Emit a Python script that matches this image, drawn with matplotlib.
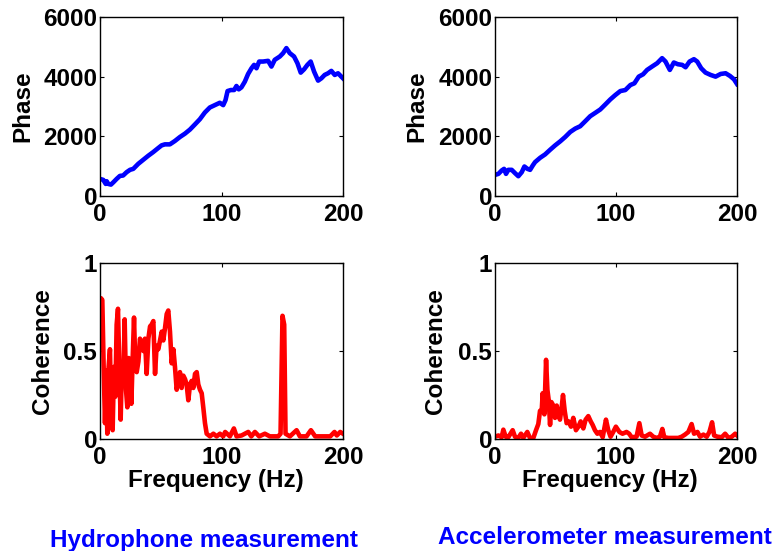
#!/usr/bin/env python3
"""
Phase and coherence plots for the hydrophone and accelerometer measurements.
"""

import matplotlib
matplotlib.use('Agg')
import matplotlib.pyplot as plt

# Hydrophone: unwrapped phase
hyd_phase_freq = [0, 2.7, 4.7, 5.5, 6.8, 9, 11, 13.7, 16.4, 19,
                  21.9, 24.7, 27.4, 31.5, 35.6, 39.7, 43.8, 47.9, 50.7, 53.4,
                  57.5, 61.6, 65.8, 69.9, 74, 78, 82.2, 86.3, 90.4, 94.5,
                  98.6, 101.4, 103.3, 105, 107.7, 110.4, 112.3, 114.2, 116.4, 119.2,
                  121.9, 124.7, 126.8, 128.8, 131, 134.2, 138.4, 141.1, 143.8, 148,
                  150.7, 153.4, 156.2, 159.7, 162.5, 165.2, 168, 170.7, 173.4, 176.2,
                  179.5, 182.2, 184.9, 187.7, 190.4, 193.2, 195.9, 200]
hyd_phase = [573, 540, 405, 495, 405, 382, 460, 573, 674, 686,
             798, 877, 910, 1079, 1214, 1349, 1472, 1607, 1697, 1731,
             1731, 1843, 1978, 2090, 2226, 2394, 2574, 2799, 2967, 3046,
             3125, 3046, 3215, 3518, 3552, 3552, 3687, 3575, 3642, 3833,
             4091, 4282, 4395, 4282, 4507, 4507, 4530, 4339, 4564, 4676,
             4788, 4957, 4788, 4676, 4451, 4136, 4248, 4395, 4507, 4170,
             3867, 3945, 4058, 4114, 4193, 4058, 4114, 3945]

# Accelerometer: unwrapped phase
acc_phase_freq = [0, 2.8, 5.5, 7.5, 9.1, 11, 13.8, 16.6, 19.3, 22.1,
                  24.3, 26.8, 29, 31.2, 33.1, 37.3, 41.4, 45.6, 49.7, 53.9,
                  58, 62.2, 66.3, 70.4, 74.6, 78.7, 82.9, 87, 91.2, 95.3,
                  99.4, 103.6, 107.7, 111.9, 115.2, 118.8, 122.4, 125.7, 129.8, 134,
                  138.1, 140.9, 144.5, 147.8, 151.1, 154.7, 157.5, 160.8, 164.4, 167.1,
                  170.4, 174, 178.2, 182.3, 186.5, 190.6, 194.2, 197.5, 200]
acc_phase = [708, 742, 854, 910, 742, 877, 877, 764, 663, 798,
             989, 910, 877, 1023, 1135, 1281, 1394, 1551, 1697, 1832,
             1978, 2147, 2259, 2338, 2507, 2675, 2788, 2900, 3069, 3237,
             3383, 3518, 3552, 3720, 3777, 4001, 4080, 4226, 4339, 4451,
             4620, 4507, 4226, 4474, 4417, 4395, 4316, 4507, 4586, 4507,
             4282, 4136, 4058, 4001, 4091, 4114, 4024, 3912, 3754]

# Hydrophone: coherence
hyd_coh_freq = [0, 0.8, 1.9, 3, 4.1, 5.2, 6, 7.1, 8.2, 9.3,
                10.4, 11.5, 12.6, 13.7, 14.8, 15.9, 17, 18, 19.1, 20.3,
                21.4, 22.5, 23.6, 24.7, 25.8, 26.9, 28, 29.1, 30.2, 31.6,
                32.9, 34.3, 35.7, 37, 38.4, 39.8, 41.2, 42.5, 43.9, 45.3,
                46.6, 48, 49.4, 50.8, 52.1, 53.5, 54.9, 56.2, 57.6, 59,
                60.4, 61.7, 63.1, 64.5, 65.8, 67.2, 68.6, 70, 71.3, 72.7,
                74.1, 75.4, 76.8, 78.2, 79.6, 80.9, 82.3, 83.7, 85, 86.4,
                87.8, 90.5, 93.3, 96, 98.7, 101.4, 103, 106.9, 110.2, 112.4,
                116.5, 122, 124.5, 127.5, 131, 135.7, 139.8, 146.7, 148.6, 150.2,
                151.6, 152.7, 156.3, 161.8, 164.5, 170, 173.6, 177.1, 182.6, 189.5,
                193, 194.9, 197.7, 200]
hyd_coh = [0.74, 0.80, 0.79, 0.41, 0.09, 0.39, 0.03, 0.41, 0.51, 0.13,
           0.05, 0.41, 0.24, 0.65, 0.74, 0.41, 0.11, 0.41, 0.31, 0.68,
           0.28, 0.18, 0.46, 0.43, 0.20, 0.46, 0.69, 0.41, 0.38, 0.44,
           0.57, 0.54, 0.50, 0.57, 0.37, 0.57, 0.64, 0.65, 0.67, 0.37,
           0.53, 0.51, 0.56, 0.61, 0.56, 0.63, 0.71, 0.73, 0.61, 0.43,
           0.51, 0.41, 0.28, 0.33, 0.38, 0.29, 0.36, 0.34, 0.31, 0.22,
           0.31, 0.33, 0.29, 0.37, 0.38, 0.31, 0.28, 0.26, 0.18, 0.09,
           0.03, 0.015, 0.03, 0.015, 0.03, 0.015, 0.04, 0.015, 0.06, 0.015,
           0.02, 0.04, 0.015, 0.04, 0.015, 0.03, 0.015, 0.015, 0.03, 0.70,
           0.65, 0.03, 0.015, 0.05, 0.015, 0.015, 0.05, 0.015, 0.015, 0.015,
           0.04, 0.02, 0.04, 0.03]

# Accelerometer: coherence
acc_coh_freq = [0, 2.8, 5.5, 6.9, 8.8, 11, 14.6, 16.5, 19.3, 21.5,
                23.4, 26.7, 28.9, 31.7, 33.9, 35.8, 37.2, 38.6, 39.4, 40.8,
                42.2, 43.3, 44.4, 45.5, 46.6, 48.2, 49.6, 51, 52.3, 53.7,
                55.1, 56.2, 57.6, 59.2, 60.9, 62.8, 64.7, 66.9, 68.9, 70.8,
                73, 74.9, 77.1, 79.1, 80.7, 82.6, 84.6, 86.8, 89, 91.7,
                93.6, 95.5, 97.7, 99.9,
                102.8, 105.4, 108.7, 110.9, 112.9, 117, 119.3, 121.2, 124, 128.1,
                130.8, 133.6, 136.3, 138.3, 139.9, 143.2, 147.4, 151.5, 154.3, 157,
                159.8, 162.5, 164.5, 167.3, 169.5, 172.2, 175, 177.2, 179.4, 181.1,
                183.8, 187.4, 190.2, 193, 195.7, 198.5, 200]
acc_coh = [0.013, 0.02, 0.01, 0.053, 0.013, 0.01, 0.05, 0.013, 0.006, 0.03,
           0.006, 0.04, 0.006, 0.006, 0.05, 0.085, 0.16, 0.16, 0.26, 0.14,
           0.45, 0.28, 0.22, 0.08, 0.21, 0.19, 0.12, 0.19, 0.14, 0.11,
           0.18, 0.25, 0.16, 0.09, 0.10, 0.07, 0.12, 0.05, 0.07, 0.10,
           0.06, 0.11, 0.13, 0.10, 0.08, 0.05, 0.03, 0.04, 0.01, 0.11,
           0.05, 0.013, 0.04, 0.07,
           0.04, 0.03, 0.04, 0.03, 0.01, 0.013, 0.09, 0.02, 0.013, 0.03,
           0.013, 0.006, 0.013, 0.057, 0.01, 0.006, 0.006, 0.006, 0.013, 0.025,
           0.04, 0.085, 0.03, 0.04, 0.013, 0.025, 0.013, 0.04, 0.095, 0.02,
           0.013, 0.01, 0.03, 0.006, 0.013, 0.03, 0.02]

freq_ticks = [0, 100, 200]
phase_ticks = [0, 2000, 4000, 6000]
coh_ticks = [0, 0.5, 1]
captions = ['Hydrophone measurement', 'Accelerometer measurement']

plt.rcParams['font.family'] = ['Liberation Sans', 'DejaVu Sans']
plt.rcParams['font.weight'] = 'bold'
plt.rcParams['font.size'] = 17.5


def style_axes(ax):
    """MATLAB-like box with inward ticks on all sides."""
    for side in ax.spines.values():
        side.set_linewidth(1.0)
    ax.tick_params(direction='in', length=3, width=0.8, top=True, right=True,
                   labelsize=17.5)
    ax.tick_params(axis='x', pad=5)
    ax.tick_params(axis='y', pad=2)


def draw_phase(ax, freq, phase, label_x):
    ax.plot(freq, phase, color='#0000FF', linewidth=3.3, solid_joinstyle='round')
    ax.set_xlim(0, 200)
    ax.set_ylim(0, 6000)
    ax.set_xticks(freq_ticks)
    ax.set_yticks(phase_ticks)
    ax.set_ylabel('Phase', fontweight='bold', fontsize=17.5, va='center')
    ax.yaxis.set_label_coords(label_x, 0.5)
    style_axes(ax)


def draw_coherence(ax, freq, coh, label_x, xlabel_x):
    ax.plot(freq, coh, color='#FF0000', linewidth=3.3, solid_joinstyle='round')
    ax.set_xlim(0, 200)
    ax.set_ylim(0, 1)
    ax.set_xticks(freq_ticks)
    ax.set_yticks(coh_ticks)
    ax.set_yticklabels(['0', '0.5', '1'])
    ax.set_ylabel('Coherence', fontweight='bold', fontsize=17.5, va='center')
    ax.yaxis.set_label_coords(label_x, 0.5)
    ax.set_xlabel('Frequency (Hz)', fontweight='bold', fontsize=17.5, va='center')
    ax.xaxis.set_label_coords(xlabel_x, -0.233)
    style_axes(ax)


def main():
    W, H = 773, 551
    fig = plt.figure(figsize=(W / 100, H / 100), dpi=100)
    fig.patch.set_facecolor('white')

    def box(x0, x1, y0, y1):
        return [x0 / W, 1 - y1 / H, (x1 - x0) / W, (y1 - y0) / H]

    ax_hp = fig.add_axes(box(100, 343, 17, 196))
    ax_ap = fig.add_axes(box(495, 737, 17, 196))
    ax_hc = fig.add_axes(box(100, 343, 263, 439))
    ax_ac = fig.add_axes(box(495, 737, 263, 439))

    draw_phase(ax_hp, hyd_phase_freq, hyd_phase, -0.319)
    draw_phase(ax_ap, acc_phase_freq, acc_phase, -0.324)
    draw_coherence(ax_hc, hyd_coh_freq, hyd_coh, -0.237, 0.477)
    draw_coherence(ax_ac, acc_coh_freq, acc_coh, -0.244, 0.475)

    fig.text(204 / W, 1 - 540 / H, captions[0], color='#0000FF',
             fontsize=17.5, fontweight='bold', ha='center', va='center')
    fig.text(605 / W, 1 - 537 / H, captions[1], color='#0000FF',
             fontsize=17.5, fontweight='bold', ha='center', va='center')

    fig.savefig('out.png', dpi=100, facecolor='white')
    plt.close(fig)


if __name__ == "__main__":
    main()
